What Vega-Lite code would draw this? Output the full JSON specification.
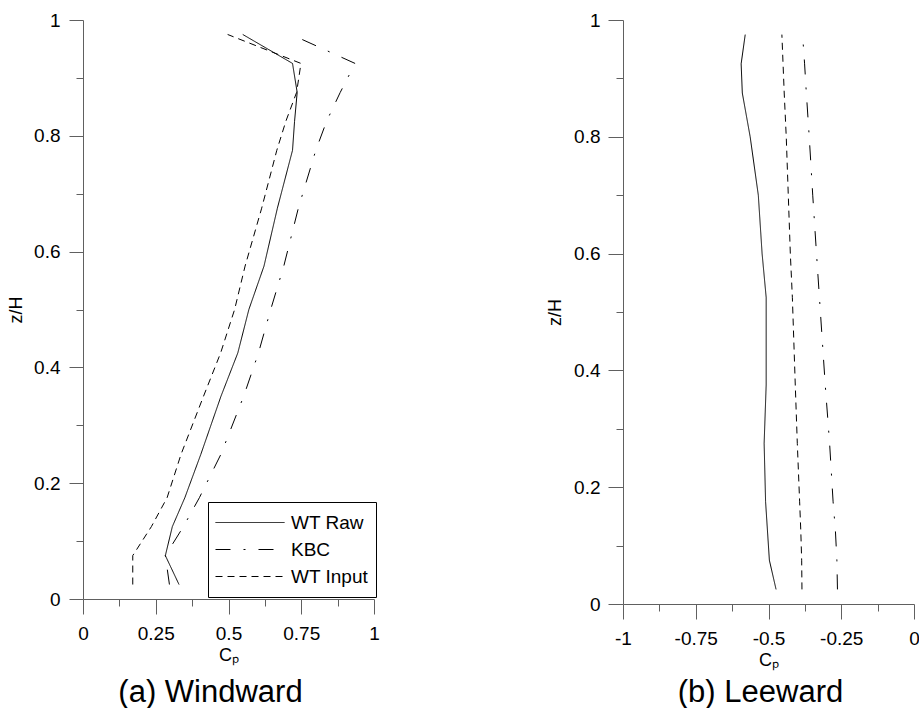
{
  "$schema": "https://vega.github.io/schema/vega-lite/v6.json",
  "padding": {"left": 7, "top": 11, "right": 0, "bottom": 0},
  "spacing": 166,
  "config": {
    "view": {"stroke": null},
    "font": "Liberation Sans",
    "axis": {
      "grid": false,
      "domainColor": "#606060",
      "tickColor": "#606060",
      "labelColor": "black",
      "labelFont": "Liberation Sans",
      "labelFontSize": 19,
      "titleFont": "Liberation Sans",
      "titleFontSize": 18,
      "titleFontWeight": "normal",
      "titleColor": "black",
      "labelFlush": false,
      "labelOverlap": false
    }
  },
  "resolve": {"scale": {"strokeDash": "independent"}, "legend": {"strokeDash": "independent"}},
  "datasets": {
    "windward": [
      {"series": "WT Raw", "z": 0.025, "cp": 0.33},
      {"series": "WT Raw", "z": 0.075, "cp": 0.283},
      {"series": "WT Raw", "z": 0.125, "cp": 0.307},
      {"series": "WT Raw", "z": 0.175, "cp": 0.35},
      {"series": "WT Raw", "z": 0.25, "cp": 0.405},
      {"series": "WT Raw", "z": 0.35, "cp": 0.474},
      {"series": "WT Raw", "z": 0.425, "cp": 0.532},
      {"series": "WT Raw", "z": 0.5, "cp": 0.57},
      {"series": "WT Raw", "z": 0.575, "cp": 0.622},
      {"series": "WT Raw", "z": 0.675, "cp": 0.668},
      {"series": "WT Raw", "z": 0.775, "cp": 0.72},
      {"series": "WT Raw", "z": 0.825, "cp": 0.727},
      {"series": "WT Raw", "z": 0.875, "cp": 0.736},
      {"series": "WT Raw", "z": 0.925, "cp": 0.72},
      {"series": "WT Raw", "z": 0.975, "cp": 0.549},
      {"series": "KBC", "z": 0.025, "cp": 0.297},
      {"series": "KBC", "z": 0.075, "cp": 0.283},
      {"series": "KBC", "z": 0.125, "cp": 0.345},
      {"series": "KBC", "z": 0.175, "cp": 0.4},
      {"series": "KBC", "z": 0.25, "cp": 0.474},
      {"series": "KBC", "z": 0.35, "cp": 0.552},
      {"series": "KBC", "z": 0.425, "cp": 0.603},
      {"series": "KBC", "z": 0.5, "cp": 0.645},
      {"series": "KBC", "z": 0.575, "cp": 0.69},
      {"series": "KBC", "z": 0.675, "cp": 0.74},
      {"series": "KBC", "z": 0.775, "cp": 0.8},
      {"series": "KBC", "z": 0.825, "cp": 0.837},
      {"series": "KBC", "z": 0.875, "cp": 0.884},
      {"series": "KBC", "z": 0.925, "cp": 0.935},
      {"series": "KBC", "z": 0.975, "cp": 0.715},
      {"series": "WT Input", "z": 0.025, "cp": 0.171},
      {"series": "WT Input", "z": 0.075, "cp": 0.171},
      {"series": "WT Input", "z": 0.125, "cp": 0.235},
      {"series": "WT Input", "z": 0.175, "cp": 0.289},
      {"series": "WT Input", "z": 0.25, "cp": 0.337},
      {"series": "WT Input", "z": 0.35, "cp": 0.414},
      {"series": "WT Input", "z": 0.425, "cp": 0.473},
      {"series": "WT Input", "z": 0.5, "cp": 0.521},
      {"series": "WT Input", "z": 0.575, "cp": 0.557},
      {"series": "WT Input", "z": 0.675, "cp": 0.614},
      {"series": "WT Input", "z": 0.775, "cp": 0.666},
      {"series": "WT Input", "z": 0.825, "cp": 0.697},
      {"series": "WT Input", "z": 0.875, "cp": 0.734},
      {"series": "WT Input", "z": 0.925, "cp": 0.749},
      {"series": "WT Input", "z": 0.975, "cp": 0.497}
    ],
    "leeward": [
      {"series": "WT Raw", "z": 0.025, "cp": -0.474},
      {"series": "WT Raw", "z": 0.075, "cp": -0.497},
      {"series": "WT Raw", "z": 0.175, "cp": -0.51},
      {"series": "WT Raw", "z": 0.275, "cp": -0.515},
      {"series": "WT Raw", "z": 0.375, "cp": -0.508},
      {"series": "WT Raw", "z": 0.525, "cp": -0.508},
      {"series": "WT Raw", "z": 0.6, "cp": -0.522},
      {"series": "WT Raw", "z": 0.7, "cp": -0.535},
      {"series": "WT Raw", "z": 0.8, "cp": -0.563},
      {"series": "WT Raw", "z": 0.875, "cp": -0.59},
      {"series": "WT Raw", "z": 0.925, "cp": -0.594},
      {"series": "WT Raw", "z": 0.975, "cp": -0.58},
      {"series": "KBC", "z": 0.025, "cp": -0.263},
      {"series": "KBC", "z": 0.075, "cp": -0.265},
      {"series": "KBC", "z": 0.125, "cp": -0.27},
      {"series": "KBC", "z": 0.175, "cp": -0.278},
      {"series": "KBC", "z": 0.275, "cp": -0.29},
      {"series": "KBC", "z": 0.375, "cp": -0.305},
      {"series": "KBC", "z": 0.525, "cp": -0.325},
      {"series": "KBC", "z": 0.6, "cp": -0.335},
      {"series": "KBC", "z": 0.7, "cp": -0.348},
      {"series": "KBC", "z": 0.8, "cp": -0.36},
      {"series": "KBC", "z": 0.875, "cp": -0.37},
      {"series": "KBC", "z": 0.925, "cp": -0.376},
      {"series": "KBC", "z": 0.975, "cp": -0.383},
      {"series": "WT Input", "z": 0.025, "cp": -0.385},
      {"series": "WT Input", "z": 0.075, "cp": -0.386},
      {"series": "WT Input", "z": 0.125, "cp": -0.389},
      {"series": "WT Input", "z": 0.175, "cp": -0.393},
      {"series": "WT Input", "z": 0.275, "cp": -0.401},
      {"series": "WT Input", "z": 0.375, "cp": -0.408},
      {"series": "WT Input", "z": 0.525, "cp": -0.418},
      {"series": "WT Input", "z": 0.6, "cp": -0.425},
      {"series": "WT Input", "z": 0.7, "cp": -0.432},
      {"series": "WT Input", "z": 0.8, "cp": -0.439},
      {"series": "WT Input", "z": 0.875, "cp": -0.446},
      {"series": "WT Input", "z": 0.925, "cp": -0.45},
      {"series": "WT Input", "z": 0.975, "cp": -0.454}
    ]
  },
  "hconcat": [
    {
      "width": 291,
      "height": 579,
      "data": {"name": "windward"},
      "title": {"text": "(a) Windward", "orient": "bottom", "anchor": "middle", "frame": "group", "fontSize": 31, "fontWeight": "normal", "font": "Liberation Sans", "color": "black", "offset": 14, "dx": -18},
      "mark": {"type": "line", "color": "black", "strokeWidth": 1},
      "encoding": {
        "x": {
          "field": "cp", "type": "quantitative",
          "scale": {"domain": [0, 1], "nice": false, "zero": false},
          "axis": {
            "title": "Cₚ",
            "values": [0, 0.125, 0.25, 0.375, 0.5, 0.625, 0.75, 0.875, 1],
            "labelExpr": "indexof([0,0.25,0.5,0.75,1], datum.value) >= 0 ? toString(datum.value) : ''",
            "tickSize": {"condition": {"test": "indexof([0,0.25,0.5,0.75,1], datum.value) < 0", "value": 7}, "value": 15},
            "labelPadding": 10,
            "titlePadding": 3
          }
        },
        "y": {
          "field": "z", "type": "quantitative",
          "scale": {"domain": [0, 1], "nice": false, "zero": false},
          "axis": {
            "title": "z/H",
            "values": [0, 0.1, 0.2, 0.3, 0.4, 0.5, 0.6, 0.7, 0.8, 0.9, 1],
            "labelExpr": "indexof([0,0.2,0.4,0.6,0.8,1], datum.value) >= 0 ? toString(datum.value) : ''",
            "tickSize": {"condition": {"test": "indexof([0,0.2,0.4,0.6,0.8,1], datum.value) < 0", "value": 7}, "value": 14},
            "labelPadding": 9,
            "titlePadding": 8
          }
        },
        "strokeDash": {
          "field": "series", "type": "nominal",
          "scale": {"domain": ["WT Raw", "KBC", "WT Input"], "range": [[1, 0], [15, 13, 2, 13], [7, 5]]},
          "legend": {
            "orient": "none", "legendX": 125, "legendY": 482, "title": null, "direction": "vertical",
            "symbolType": "stroke", "symbolSize": 4761, "symbolStrokeColor": "black", "symbolStrokeWidth": 1,
            "clipHeight": 27, "rowPadding": 0, "padding": 7, "symbolOffset": 0, "labelOffset": 6,
            "labelFontSize": 19, "labelFont": "Liberation Sans", "labelColor": "black", "labelLimit": 200,
            "strokeColor": "black", "fillColor": "white"
          }
        },
        "order": {"field": "z", "type": "quantitative"}
      }
    },
    {
      "width": 291,
      "height": 584,
      "data": {"name": "leeward"},
      "title": {"text": "(b) Leeward", "orient": "bottom", "anchor": "middle", "frame": "group", "fontSize": 31, "fontWeight": "normal", "font": "Liberation Sans", "color": "black", "offset": 9, "dx": -8},
      "mark": {"type": "line", "color": "black", "strokeWidth": 1},
      "encoding": {
        "x": {
          "field": "cp", "type": "quantitative",
          "scale": {"domain": [-1, 0], "nice": false, "zero": false},
          "axis": {
            "title": "Cₚ",
            "values": [-1, -0.875, -0.75, -0.625, -0.5, -0.375, -0.25, -0.125, 0],
            "labelExpr": "indexof([-1,-0.75,-0.5,-0.25,0], datum.value) >= 0 ? toString(datum.value) : ''",
            "tickSize": {"condition": {"test": "indexof([-1,-0.75,-0.5,-0.25,0], datum.value) < 0", "value": 7}, "value": 15},
            "labelPadding": 10,
            "titlePadding": 3
          }
        },
        "y": {
          "field": "z", "type": "quantitative",
          "scale": {"domain": [0, 1], "nice": false, "zero": false},
          "axis": {
            "title": "z/H",
            "values": [0, 0.1, 0.2, 0.3, 0.4, 0.5, 0.6, 0.7, 0.8, 0.9, 1],
            "labelExpr": "indexof([0,0.2,0.4,0.6,0.8,1], datum.value) >= 0 ? toString(datum.value) : ''",
            "tickSize": {"condition": {"test": "indexof([0,0.2,0.4,0.6,0.8,1], datum.value) < 0", "value": 7}, "value": 15},
            "labelPadding": 8,
            "titlePadding": 9
          }
        },
        "strokeDash": {
          "field": "series", "type": "nominal",
          "scale": {"domain": ["WT Raw", "KBC", "WT Input"], "range": [[1, 0], [15, 13, 2, 13], [7, 5]]},
          "legend": null
        },
        "order": {"field": "z", "type": "quantitative"}
      }
    }
  ]
}
